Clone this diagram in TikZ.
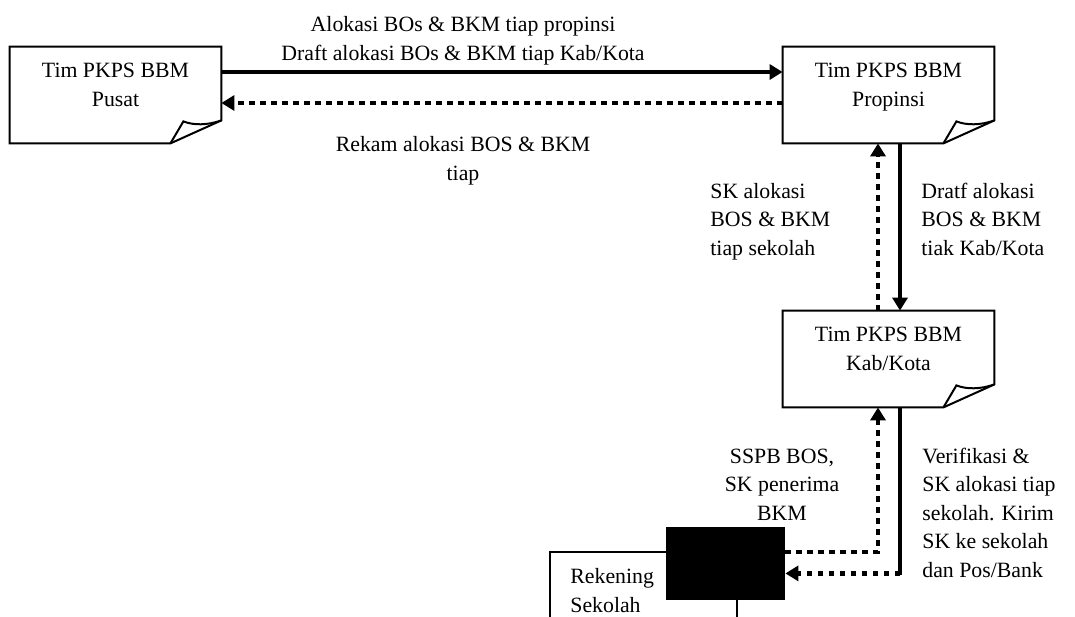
\documentclass[tikz,border=0pt]{standalone}
\usepackage{fontspec}
\setmainfont{Liberation Serif}
\usetikzlibrary{arrows.meta,calc}
\newcommand\docshape[1]{%
  \draw[boxline] (#1.north west) -- (#1.north east) -- ($(#1.south east)+(0,-23)$)
    -- ($(#1.south east)+(-51,0)$) -- (#1.south west) -- cycle;
  \draw[boxline] ($(#1.south east)+(-51,0)$) -- ($(#1.south east)+(-38,-22)$)
    .. controls ($(#1.south east)+(-28,-18)$) and ($(#1.south east)+(-14,-18)$) .. ($(#1.south east)+(0,-23)$);}
\begin{document}
\begin{tikzpicture}[x=0.5pt,y=-0.5pt,
  every node/.style={font=\fontsize{10.9}{14.25}\selectfont, inner sep=0pt},
  boxline/.style={line width=1pt, line join=miter},
  docbox/.style={draw=none, minimum width=105.5pt, minimum height=48pt},
  lbl/.style={align=center, anchor=base},
  lbll/.style={align=left, anchor=base west},
  solidline/.style={line width=2.2pt},
  solidarr/.style={line width=2.2pt, -{Triangle[length=6.5pt,width=7.5pt]}},
  dotline/.style={line width=2.2pt, dash pattern=on 2.6pt off 2.9pt},
  dotarr/.style={dotline, -{Triangle[length=6.5pt,width=7.5pt]}},
]
\useasboundingbox (0,0) rectangle (1075,616);

% document boxes
\node[docbox] (pusat) at (115.5,95) {};
\node[docbox] (propinsi) at (888.5,95) {};
\node[docbox] (kab) at (888.5,359) {};
\docshape{pusat}
\docshape{propinsi}
\docshape{kab}
\node[lbl] (pusat-t) at (115.5,106) {Tim PKPS BBM\\Pusat};
\node[lbl] (propinsi-t) at (888.5,106) {Tim PKPS BBM\\Propinsi};
\node[lbl] (kab-t) at (888.5,370) {Tim PKPS BBM\\Kab/Kota};

% rekening box (clipped at bottom)
\begin{scope}
\clip (0,0) rectangle (1075,616);
\node[draw, line width=1pt, minimum width=93.5pt, minimum height=50pt] (rek) at (643.5,602) {};
\end{scope}
\node[fill=black, minimum width=59.5pt, minimum height=36.5pt] (blk) at (725.5,563.5) {};
\node[lbll] (rek-t) at (570,612) {Rekening\\Sekolah};

% top connectors
\draw[solidarr] ($(pusat.east)+(0,-23)$) -- ($(propinsi.west)+(0,-23)$);
\draw[dotarr] ($(propinsi.west)+(0,8)$) -- ($(pusat.east)+(0,8)$);
\node[lbl] (l1) at (463,60) {Alokasi BOs \& BKM tiap propinsi\\Draft alokasi BOs \& BKM tiap Kab/Kota};
\node[lbl] (l2) at (463,180) {Rekam alokasi BOS \& BKM\\tiap};

% vertical connectors
\draw[dotarr] ($(kab.north)+(-10.5,0)$) -- ($(propinsi.south)+(-10.5,0)$);
\draw[solidarr] ($(propinsi.south)+(11.5,0)$) -- ($(kab.north)+(11.5,0)$);
\node[lbll] (l3) at (710,255) {SK alokasi\\BOS \& BKM\\tiap sekolah};
\node[lbll] (l4) at (921,255) {Dratf alokasi\\BOS \& BKM\\tiak Kab/Kota};

% bottom connectors
\draw[dotarr] ($(blk.east)+(0,-11.5)$) -| ($(kab.south)+(-10.5,0)$);
\coordinate (turn) at ($(kab.south)+(11.5,166)$);
\draw[solidline] ($(kab.south)+(11.5,0)$) -- ($(turn)+(0,2)$);
\draw[dotarr] (turn) -- (blk.east |- turn);
\node[lbl] (l5) at (782,520) {SSPB BOS,\\SK penerima\\BKM};
\node[lbll] (l6) at (922,577) {Verifikasi \&\\SK alokasi tiap\\sekolah. Kirim\\SK ke sekolah\\dan Pos/Bank};
\end{tikzpicture}
\end{document}
